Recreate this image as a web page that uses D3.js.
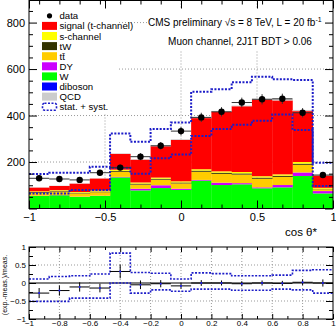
<!DOCTYPE html>
<html>
<head>
<meta charset="utf-8">
<script src="https://cdn.jsdelivr.net/npm/d3@7"></script>
<style>
  body { margin: 0; background: #fff; }
  svg text { font-family: "Liberation Sans", Arial, sans-serif; }
</style>
</head>
<body>
<svg id="chart" width="336" height="327"></svg>
<script>
// bin edges of cos theta*
const binEdges = [-1, -0.8667, -0.7333, -0.6, -0.4667, -0.3333, -0.2, -0.0667, 0.0667, 0.2, 0.3333, 0.4667, 0.6, 0.7333, 0.8667, 1];

// stacked MC, bottom to top
const diboson = [1, 1, 1, 1, 2, 1, 1, 1, 2, 1, 1, 1, 1, 2, 1];
const wjets   = [53, 56, 49, 53, 132, 77, 87, 79, 118, 100, 103, 86, 90, 138, 64];
const dy      = [1, 1, 1, 1, 2, 7, 12, 5, 3, 10, 5, 4, 10, 15, 10];
const ttbar   = [13, 15, 14, 15, 22, 18, 24, 23, 35, 38, 37, 37, 35, 33, 8];
const tw      = [3, 3, 3, 3, 4, 4, 4, 4, 5, 5, 5, 5, 5, 5, 2];
const schan   = [3, 3, 3, 4, 5, 5, 5, 5, 6, 6, 6, 6, 6, 7, 4];
const signal  = [16, 18, 36, 52, 68, 98, 135, 178, 220, 257, 283, 330, 318, 219, 53];
const qcd     = [1, 1, 1, 1, 2, 2, 2, 3, 3, 3, 3, 3, 7, 5, 2];

const dataCounts = [130, 127, 123, 154, 176, 223, 270, 333, 392, 416, 456, 470, 472, 412, 144];
const dataErr    = [11, 11, 11, 12, 13, 15, 16, 18, 20, 20, 21, 22, 22, 20, 12];

// stat. + syst. band
const bandUp   = [148, 154, 154, 180, 323, 287, 342, 370, 502, 513, 543, 567, 556, 553, 197];
const bandDown = [65, 65, 80, 80, 175, 150, 216, 232, 312, 342, 360, 378, 405, 338, 97];

// ratio pad
const ratio     = [-0.28, -0.21, -0.11, -0.14, 0.32, -0.05, -0.02, -0.08, 0.0, 0.0, -0.02, 0.0, -0.01, 0.02, 0.0];
const ratioErr  = [0.14, 0.14, 0.13, 0.12, 0.19, 0.12, 0.1, 0.08, 0.08, 0.07, 0.07, 0.07, 0.07, 0.08, 0.1];
const ratioUp   = [0.11, 0.18, 0.2, 0.25, 0.83, 0.29, 0.27, 0.11, 0.28, 0.26, 0.2, 0.2, 0.22, 0.35, 0.37];
const ratioDown = [-0.51, -0.51, -0.42, -0.42, 0.0, -0.28, -0.19, -0.23, -0.17, -0.17, -0.2, -0.2, -0.17, -0.19, -0.28];

const mainTicksX = [-1, -0.5, 0, 0.5, 1];
const mainTicksY = [0, 200, 400, 600, 800];
const ratioTicksX = [-1, -0.8, -0.6, -0.4, -0.2, 0, 0.2, 0.4, 0.6, 0.8, 1];
const ratioTicksY = [-1, -0.5, 0, 0.5, 1];

const layers = [
  { key: 'diboson', label: 'diboson', color: '#0000ff', vals: diboson },
  { key: 'W', label: 'W', color: '#00ff00', vals: wjets },
  { key: 'DY', label: 'DY', color: '#cc00ff', vals: dy },
  { key: 'tt', label: 'tt\u0304', color: '#ffcc00', vals: ttbar },
  { key: 'tW', label: 'tW', color: '#333300', vals: tw },
  { key: 'sch', label: 's-channel', color: '#ffff00', vals: schan },
  { key: 'sig', label: 'signal (t-channel)', color: '#ff0000', vals: signal },
  { key: 'qcd', label: 'QCD', color: '#cccccc', vals: qcd }
];

const svg = d3.select('#chart');
const L = 29, R = 333;

const x = d3.scaleLinear().domain([-1, 1]).range([L, R]);
const y = d3.scaleLinear().domain([0, 895]).range([208.5, 0.5]);
const yr = d3.scaleLinear().domain([-1, 1]).range([319, 247]);

const rows = dataCounts.map((d, i) => {
  const r = { lo: binEdges[i], hi: binEdges[i + 1] };
  layers.forEach(l => { r[l.key] = l.vals[i]; });
  return r;
});
const stacked = d3.stack().keys(layers.map(l => l.key))(rows);

const bandBlue = '#1c1cc8';
const gridColor = '#999';

// ---------- main pad ----------
const main = svg.append('g');

// grid
main.append('g').selectAll('line.hg')
  .data([200, 400, 600, 800]).enter().append('line')
  .attr('x1', L).attr('x2', R)
  .attr('y1', d => y(d)).attr('y2', d => y(d))
  .attr('stroke', gridColor).attr('stroke-width', 1).attr('stroke-dasharray', '1,2');
main.append('g').selectAll('line.vg')
  .data([-0.5, 0, 0.5]).enter().append('line')
  .attr('x1', d => x(d)).attr('x2', d => x(d))
  .attr('y1', y(0)).attr('y2', y(895))
  .attr('stroke', gridColor).attr('stroke-width', 1).attr('stroke-dasharray', '1,2');

// stack
stacked.forEach((s, li) => {
  main.append('g').selectAll('rect')
    .data(s).enter().append('rect')
    .attr('x', d => x(d.data.lo))
    .attr('width', d => x(d.data.hi) - x(d.data.lo) + 0.3)
    .attr('y', d => y(d[1]))
    .attr('height', d => y(d[0]) - y(d[1]))
    .attr('fill', layers[li].color);
});

// band
const stepLine = (vals, ys) => d3.line()
  .x(d => x(d[0])).y(d => ys(d[1]))
  .curve(d3.curveStepAfter)(vals.map((v, i) => [binEdges[i], v]).concat([[1, vals[vals.length - 1]]]));

[bandUp, bandDown].forEach(b => {
  main.append('path').attr('d', stepLine(b, y))
    .attr('fill', 'none').attr('stroke', bandBlue)
    .attr('stroke-width', 2).attr('stroke-dasharray', '2,1.5');
});

// data
const dg = main.append('g');
dataCounts.forEach((d, i) => {
  const cx = x((binEdges[i] + binEdges[i + 1]) / 2);
  dg.append('line').attr('x1', x(binEdges[i])).attr('x2', x(binEdges[i + 1]))
    .attr('y1', y(d)).attr('y2', y(d)).attr('stroke', '#333').attr('stroke-width', 1);
  dg.append('line').attr('x1', cx).attr('x2', cx)
    .attr('y1', y(d - dataErr[i])).attr('y2', y(d + dataErr[i]))
    .attr('stroke', '#333').attr('stroke-width', 1);
  dg.append('circle').attr('cx', cx).attr('cy', y(d)).attr('r', 3.2).attr('fill', '#000');
});

// legend
main.append('rect').attr('x', L + 0.5).attr('y', 3).attr('width', 88).attr('height', 110).attr('fill', '#fff');
const legendItems = [
  { label: 'data', type: 'dot' },
  ...layers.slice().reverse().filter(l => l.key !== 'qcd').map(l => ({ label: l.label, type: 'box', color: l.color })),
  { label: 'QCD', type: 'box', color: '#cccccc' },
  { label: 'stat. + syst.', type: 'band' }
];
// order as in reference: data, signal, s-channel, tW, tt, DY, W, diboson, QCD, band
const leg = main.append('g');
legendItems.forEach((it, i) => {
  const ly = 15.8 + i * 10.1;
  if (it.type === 'dot') {
    leg.append('circle').attr('cx', 49.5).attr('cy', ly).attr('r', 2.6).attr('fill', '#000');
  } else if (it.type === 'box') {
    leg.append('rect').attr('x', 42).attr('y', ly - 4).attr('width', 15).attr('height', 8).attr('fill', it.color);
  } else {
    leg.append('rect').attr('x', 42.5).attr('y', ly - 3.5).attr('width', 14).attr('height', 7).attr('rx', 2)
      .attr('fill', 'none').attr('stroke', bandBlue).attr('stroke-width', 1.6).attr('stroke-dasharray', '2,1.5');
  }
  leg.append('text').attr('x', 59.5).attr('y', ly + 3.5).attr('font-size', '9.6px').text(it.label);
});

// header text
main.append('rect').attr('x', 147).attr('y', 8).attr('width', R - 147 - 0.5).attr('height', 42).attr('fill', '#fff');
const t1 = main.append('text').attr('x', 148).attr('y', 25.5).attr('font-size', '10px');
t1.append('tspan').text('CMS preliminary \u221As = 8 TeV, L = 20 fb');
t1.append('tspan').attr('dy', -4).attr('font-size', '7px').text('-1');
main.append('text').attr('x', 240).attr('y', 45).attr('text-anchor', 'middle')
  .attr('font-size', '10px').text('Muon channel, 2J1T BDT > 0.06');

// frame and axes
main.append('rect').attr('x', L).attr('y', 0.5).attr('width', R - L).attr('height', y(0) - 0.5)
  .attr('fill', 'none').attr('stroke', '#000').attr('stroke-width', 1);

const binCenters = rows.map(r => (r.lo + r.hi) / 2);
const fixAxis = g => { g.select('.domain').remove(); g.selectAll('line').attr('stroke', '#000'); };

main.append('g').attr('transform', `translate(0,${y(0)})`)
  .call(d3.axisBottom(x).tickValues(mainTicksX).tickSizeInner(-8).tickPadding(5).tickFormat(d3.format('')))
  .call(fixAxis).selectAll('text').attr('font-size', '11px').attr('fill', '#000');
main.append('g').attr('transform', `translate(0,${y(0)})`)
  .call(d3.axisBottom(x).tickValues(binCenters).tickSizeInner(-4).tickFormat(''))
  .call(fixAxis);
main.append('g').attr('transform', 'translate(0,0.5)')
  .call(d3.axisTop(x).tickValues(mainTicksX).tickSizeInner(-8).tickFormat(''))
  .call(fixAxis);
main.append('g').attr('transform', 'translate(0,0.5)')
  .call(d3.axisTop(x).tickValues(binCenters).tickSizeInner(-4).tickFormat(''))
  .call(fixAxis);

const minorY = [50, 100, 150, 250, 300, 350, 450, 500, 550, 650, 700, 750, 850];
main.append('g').attr('transform', `translate(${L},0)`)
  .call(d3.axisLeft(y).tickValues(mainTicksY).tickSizeInner(-8).tickPadding(4).tickFormat(d => d === 0 ? '' : d))
  .call(fixAxis).selectAll('text').attr('font-size', '11px').attr('fill', '#000');
main.append('g').attr('transform', `translate(${L},0)`)
  .call(d3.axisLeft(y).tickValues(minorY).tickSizeInner(-4).tickFormat(''))
  .call(fixAxis);
main.append('g').attr('transform', `translate(${R},0)`)
  .call(d3.axisRight(y).tickValues(mainTicksY).tickSizeInner(-8).tickFormat(''))
  .call(fixAxis);
main.append('g').attr('transform', `translate(${R},0)`)
  .call(d3.axisRight(y).tickValues(minorY).tickSizeInner(-4).tickFormat(''))
  .call(fixAxis);

main.append('text').attr('x', 317).attr('y', 236).attr('text-anchor', 'end')
  .attr('font-size', '11.5px').text('cos \u03B8*');

// ---------- ratio pad ----------
const rp = svg.append('g');
rp.append('g').selectAll('line')
  .data([-0.5, 0.5]).enter().append('line')
  .attr('x1', L).attr('x2', R).attr('y1', d => yr(d)).attr('y2', d => yr(d))
  .attr('stroke', gridColor).attr('stroke-dasharray', '1,2');
rp.append('g').selectAll('line')
  .data(ratioTicksX.slice(1, -1)).enter().append('line')
  .attr('x1', d => x(d)).attr('x2', d => x(d)).attr('y1', yr(-1)).attr('y2', yr(1))
  .attr('stroke', gridColor).attr('stroke-dasharray', '1,2');
rp.append('line').attr('x1', L).attr('x2', R).attr('y1', yr(0)).attr('y2', yr(0))
  .attr('stroke', '#000').attr('stroke-width', 1);

[ratioUp, ratioDown].forEach(b => {
  rp.append('path').attr('d', stepLine(b, yr))
    .attr('fill', 'none').attr('stroke', bandBlue)
    .attr('stroke-width', 1.6).attr('stroke-dasharray', '2,1.5');
});

ratio.forEach((r, i) => {
  const cx = x((binEdges[i] + binEdges[i + 1]) / 2);
  rp.append('line').attr('x1', x(binEdges[i])).attr('x2', x(binEdges[i + 1]))
    .attr('y1', yr(r)).attr('y2', yr(r)).attr('stroke', '#000');
  rp.append('line').attr('x1', cx).attr('x2', cx)
    .attr('y1', yr(r - ratioErr[i])).attr('y2', yr(r + ratioErr[i])).attr('stroke', '#000');
  rp.append('circle').attr('cx', cx).attr('cy', yr(r)).attr('r', 1).attr('fill', '#2020ff');
});

rp.append('rect').attr('x', L).attr('y', yr(1)).attr('width', R - L).attr('height', yr(-1) - yr(1))
  .attr('fill', 'none').attr('stroke', '#000');

const ratioMinorX = [-0.9, -0.7, -0.5, -0.3, -0.1, 0.1, 0.3, 0.5, 0.7, 0.9];
const ratioMinorY = [-0.75, -0.25, 0.25, 0.75];
rp.append('g').attr('transform', `translate(0,${yr(-1)})`)
  .call(d3.axisBottom(x).tickValues(ratioTicksX).tickSizeInner(-5).tickPadding(1).tickFormat(d3.format('')))
  .call(fixAxis).selectAll('text').attr('font-size', '8px').attr('fill', '#000');
rp.append('g').attr('transform', `translate(0,${yr(-1)})`)
  .call(d3.axisBottom(x).tickValues(ratioMinorX).tickSizeInner(-3).tickFormat(''))
  .call(fixAxis);
rp.append('g').attr('transform', `translate(0,${yr(1)})`)
  .call(d3.axisTop(x).tickValues(ratioTicksX).tickSizeInner(-5).tickFormat(''))
  .call(fixAxis);
rp.append('g').attr('transform', `translate(0,${yr(1)})`)
  .call(d3.axisTop(x).tickValues(ratioMinorX).tickSizeInner(-3).tickFormat(''))
  .call(fixAxis);
rp.append('g').attr('transform', `translate(${L},0)`)
  .call(d3.axisLeft(yr).tickValues(ratioTicksY).tickSizeInner(-7).tickPadding(3).tickFormat(d3.format('')))
  .call(fixAxis).selectAll('text').attr('font-size', '8px').attr('fill', '#000');
rp.append('g').attr('transform', `translate(${L},0)`)
  .call(d3.axisLeft(yr).tickValues(ratioMinorY).tickSizeInner(-4).tickFormat(''))
  .call(fixAxis);
rp.append('g').attr('transform', `translate(${R},0)`)
  .call(d3.axisRight(yr).tickValues(ratioTicksY).tickSizeInner(-7).tickFormat(''))
  .call(fixAxis);
rp.append('g').attr('transform', `translate(${R},0)`)
  .call(d3.axisRight(yr).tickValues(ratioMinorY).tickSizeInner(-4).tickFormat(''))
  .call(fixAxis);

rp.append('text').attr('transform', `translate(7,${yr(0) + 2}) rotate(-90)`)
  .attr('text-anchor', 'middle').attr('font-size', '7px').text('(exp.-meas.)/meas.');
</script>
</body>
</html>
